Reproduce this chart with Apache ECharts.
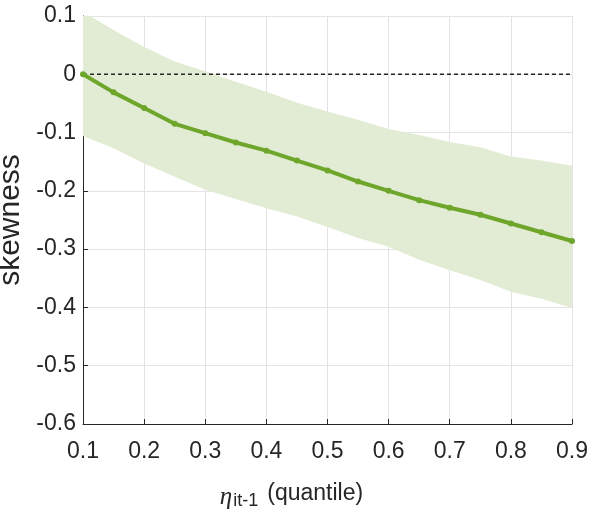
<!DOCTYPE html>
<html>
<head>
<meta charset="utf-8">
<script src="https://cdn.jsdelivr.net/npm/echarts@6/dist/echarts.min.js"></script>
<style>html,body{margin:0;padding:0;background:#fff;}#c{width:591px;height:515px;}</style>
</head>
<body>
<div id="c"></div>
<script>
var quantiles = [0.1,0.15,0.2,0.25,0.3,0.35,0.4,0.45,0.5,0.55,0.6,0.65,0.7,0.75,0.8,0.85,0.9];
var skewMean = [0,-0.031,-0.058,-0.085,-0.101,-0.117,-0.131,-0.148,-0.165,-0.184,-0.200,-0.216,-0.229,-0.241,-0.256,-0.271,-0.286];
var bandUpper = [0.107,0.076,0.047,0.022,0.005,-0.013,-0.030,-0.049,-0.064,-0.078,-0.094,-0.104,-0.116,-0.125,-0.141,-0.148,-0.157];
var bandLower = [-0.106,-0.127,-0.153,-0.176,-0.198,-0.214,-0.230,-0.244,-0.262,-0.281,-0.296,-0.318,-0.336,-0.353,-0.373,-0.385,-0.401];
var xTicks = [0.1,0.2,0.3,0.4,0.5,0.6,0.7,0.8,0.9];
var yTicks = [0.1,0,-0.1,-0.2,-0.3,-0.4,-0.5,-0.6];
var zeroRef = 0;

function pairs(xs, ys){ return xs.map(function(x,i){ return [x, ys[i]]; }); }

var chart = echarts.init(document.getElementById('c'), null, {renderer:'canvas'});
var tickFont = {fontFamily:'"Liberation Sans",Arial,sans-serif', fontSize:23, color:'#262626'};
chart.setOption({
  animation:false,
  grid:{left:83, right:19, top:16, bottom:91, containLabel:false, outerBoundsMode:'none'},
  xAxis:{
    type:'value', min:xTicks[0], max:xTicks[xTicks.length-1], interval:0.1,
    axisLine:{show:true, onZero:false, lineStyle:{color:'#262626', width:1}},
    axisTick:{show:true, inside:true, length:5, lineStyle:{color:'#262626'}},
    splitLine:{show:true, lineStyle:{color:'#e3e3e3', width:1}},
    axisLabel:Object.assign({margin:16, formatter:function(v){return v.toFixed(1);}}, tickFont),
    name:'{eta|η}{sub|it-1}{gap| }{txt|(quantile)}',
    nameLocation:'middle', nameGap:54,
    nameTextStyle:{
      padding:[0,72,0,0],
      rich:{
        eta:{fontFamily:'"Liberation Serif","DejaVu Serif",serif', fontStyle:'italic', fontSize:25, color:'#262626', verticalAlign:'bottom'},
        sub:{fontFamily:'"Liberation Sans",Arial,sans-serif', fontSize:18, color:'#262626', padding:[14,0,0,1]},
        gap:{fontSize:10, width:9},
        txt:{fontFamily:'"Liberation Sans",Arial,sans-serif', fontSize:23, color:'#262626'}
      }
    }
  },
  yAxis:{
    type:'value', min:yTicks[yTicks.length-1], max:yTicks[0], interval:0.1,
    axisLine:{show:true, lineStyle:{color:'#262626', width:1}},
    axisTick:{show:true, inside:true, length:5, lineStyle:{color:'#262626'}},
    splitLine:{show:true, lineStyle:{color:'#e3e3e3', width:1}},
    axisLabel:Object.assign({margin:7, formatter:function(v){return Math.abs(v)<1e-9 ? '0' : v.toFixed(1);}}, tickFont),
    name:'skewness', nameLocation:'middle', nameGap:42, nameRotate:90,
    nameTextStyle:{fontFamily:'"Liberation Sans",Arial,sans-serif', fontSize:30, color:'#262626'}
  },
  series:[
    {type:'custom', data:[[0]], silent:true, z:1,
      renderItem:function(params, api){
        var pts = [];
        for (var i=0;i<quantiles.length;i++) pts.push(api.coord([quantiles[i], bandUpper[i]]));
        for (var j=quantiles.length-1;j>=0;j--) pts.push(api.coord([quantiles[j], bandLower[j]]));
        var cs = params.coordSys;
        return {type:'polygon', shape:{points:pts}, style:{fill:'#e2ecd4'},
          clipPath:{type:'rect', shape:{x:cs.x, y:cs.y, width:cs.width, height:cs.height}}};
      }
    },
    {type:'line', data:pairs([quantiles[0], quantiles[quantiles.length-1]], [zeroRef, zeroRef]), symbol:'none',
      lineStyle:{color:'#262626', width:1.5, type:[4,3]}, z:2},
    {type:'line', data:pairs(quantiles, skewMean), symbol:'circle', symbolSize:6,
      itemStyle:{color:'#6ea62b'}, lineStyle:{color:'#6ea62b', width:4}, z:3}
  ]
});
</script>
</body>
</html>
